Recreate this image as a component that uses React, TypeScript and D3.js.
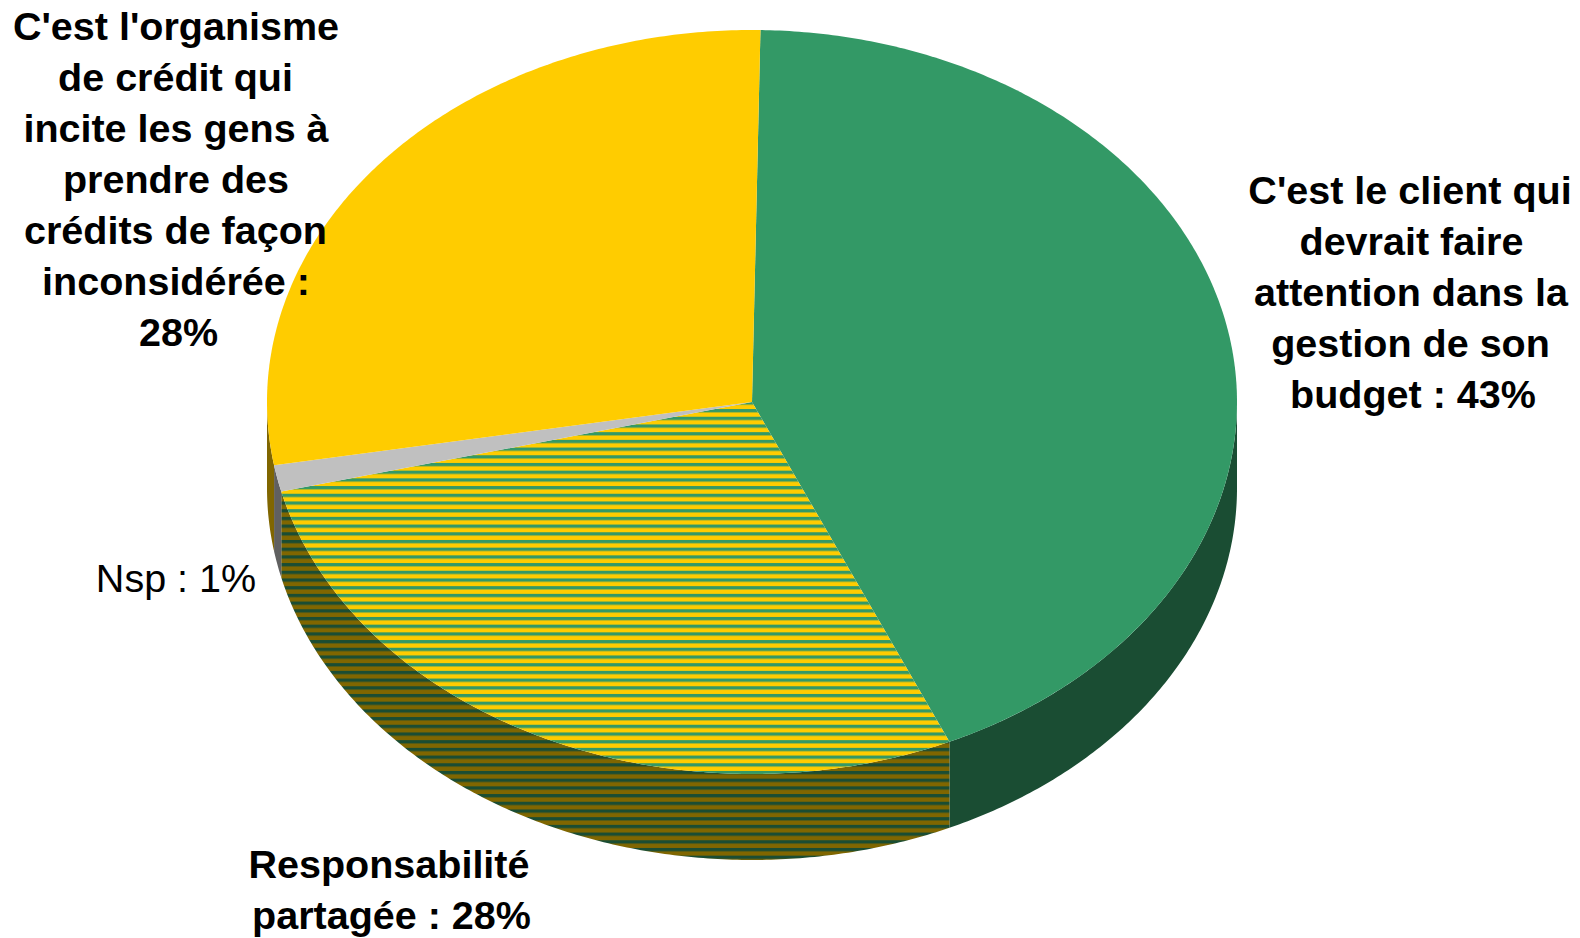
import * as d3 from "d3";

const categories = [
  "C'est le client qui devrait faire attention",
  "Responsabilité partagée",
  "Nsp",
  "C'est l'organisme de crédit",
];
// slice sizes as measured on the picture, the labels carry the rounded figures
const values = [43.05, 27.8, 1.15, 28];
const topColors = ["#339966", "url(#hatchTop)", "#C0C0C0", "#FFCC00"];
const wallColors = ["#1A4D33", "url(#hatchWall)", "#606060", "#806600"];

const labelLines = [
  ["C'est le client qui", "devrait faire", "attention dans la", "gestion de son", "budget : 43%"],
  ["Responsabilité", "partagée : 28%"],
  ["Nsp : 1%"],
  ["C'est l'organisme", "de crédit qui", "incite les gens à", "prendre des", "crédits de façon", "inconsidérée :", "28%"],
];
const labelNudge = [
  [0, 1.5, 1, 0.5, 3],
  [0, 2.5],
  [0],
  [0, -0.5, 0, 0, -0.5, 0, 2.5],
];
const labelPos = [
  { x: 1410, y: 204, bold: true },
  { x: 389, y: 878, bold: true },
  { x: 176, y: 592, bold: false },
  { x: 176, y: 40, bold: true },
];

const WIDTH = 1580;
const HEIGHT = 938;
const cx = 752;
const cy = 402;
const rx = 485;
const ry = 372;
const depth = 86;
const lineHeight = 51;

const stripePeriod = 7.7;
const stripeBand = 3.3;
const stripeStart = 478.35;

const startAngle = (1 * Math.PI) / 180;
const pie = d3
  .pie<number>()
  .sort(null)
  .startAngle(startAngle)
  .endAngle(startAngle + 2 * Math.PI);
const slices = pie(values);

// unit circle -> tilted pie ellipse
const sx = d3.scaleLinear().domain([-1, 1]).range([cx - rx, cx + rx]);
const sy = d3.scaleLinear().domain([-1, 1]).range([cy - ry, cy + ry]);

function rim(a0: number, a1: number): [number, number][] {
  return [...d3.range(a0, a1, 0.01), a1].map((a) => [sx(Math.sin(a)), sy(-Math.cos(a))]);
}

function topPath(a0: number, a1: number) {
  return d3.line()([[sx(0), sy(0)], ...rim(a0, a1)]) + "Z";
}

// Outer wall of a slice, only the part facing the viewer
function wallPath(a0: number, a1: number) {
  const from = Math.max(a0, Math.PI / 2);
  const to = Math.min(a1, (3 * Math.PI) / 2);
  if (to <= from) return null;
  const pts = rim(from, to);
  const lower = pts.map(([x, y]) => [x, y + depth] as [number, number]).reverse();
  return d3.line()([...pts, ...lower]) + "Z";
}

function Stripes({ id, a, b }: { id: string; a: string; b: string }) {
  return (
    <pattern id={id} patternUnits="userSpaceOnUse" x={0} y={stripeStart} width={8} height={stripePeriod}>
      <rect width={8} height={stripePeriod} fill={a} />
      <rect width={8} height={stripeBand} fill={b} />
    </pattern>
  );
}

export default function App() {
  return (
    <svg
      width={WIDTH}
      height={HEIGHT}
      style={{ position: "absolute", left: 0, top: 0, background: "#fff" }}
      fontFamily="'Liberation Sans', Arial, sans-serif"
    >
      <defs>
        <Stripes id="hatchTop" a="#FFCC00" b="#339966" />
        <Stripes id="hatchWall" a="#806600" b="#1A4D33" />
      </defs>
      <g>
        {slices.map((s, i) => {
          const d = wallPath(s.startAngle, s.endAngle);
          return d ? <path key={categories[i]} d={d} fill={wallColors[i]} /> : null;
        })}
      </g>
      <g>
        {slices.map((s, i) => (
          <path key={categories[i]} d={topPath(s.startAngle, s.endAngle)} fill={topColors[i]} />
        ))}
      </g>
      {labelLines.map((lines, i) => (
        <text
          key={categories[i]}
          textAnchor="middle"
          fontSize={39.5}
          fontWeight={labelPos[i].bold ? 700 : 400}
          fill="#000"
        >
          {lines.map((line, j) => (
            <tspan key={j} x={labelPos[i].x + labelNudge[i][j]} y={labelPos[i].y + j * lineHeight}>
              {line}
            </tspan>
          ))}
        </text>
      ))}
    </svg>
  );
}
